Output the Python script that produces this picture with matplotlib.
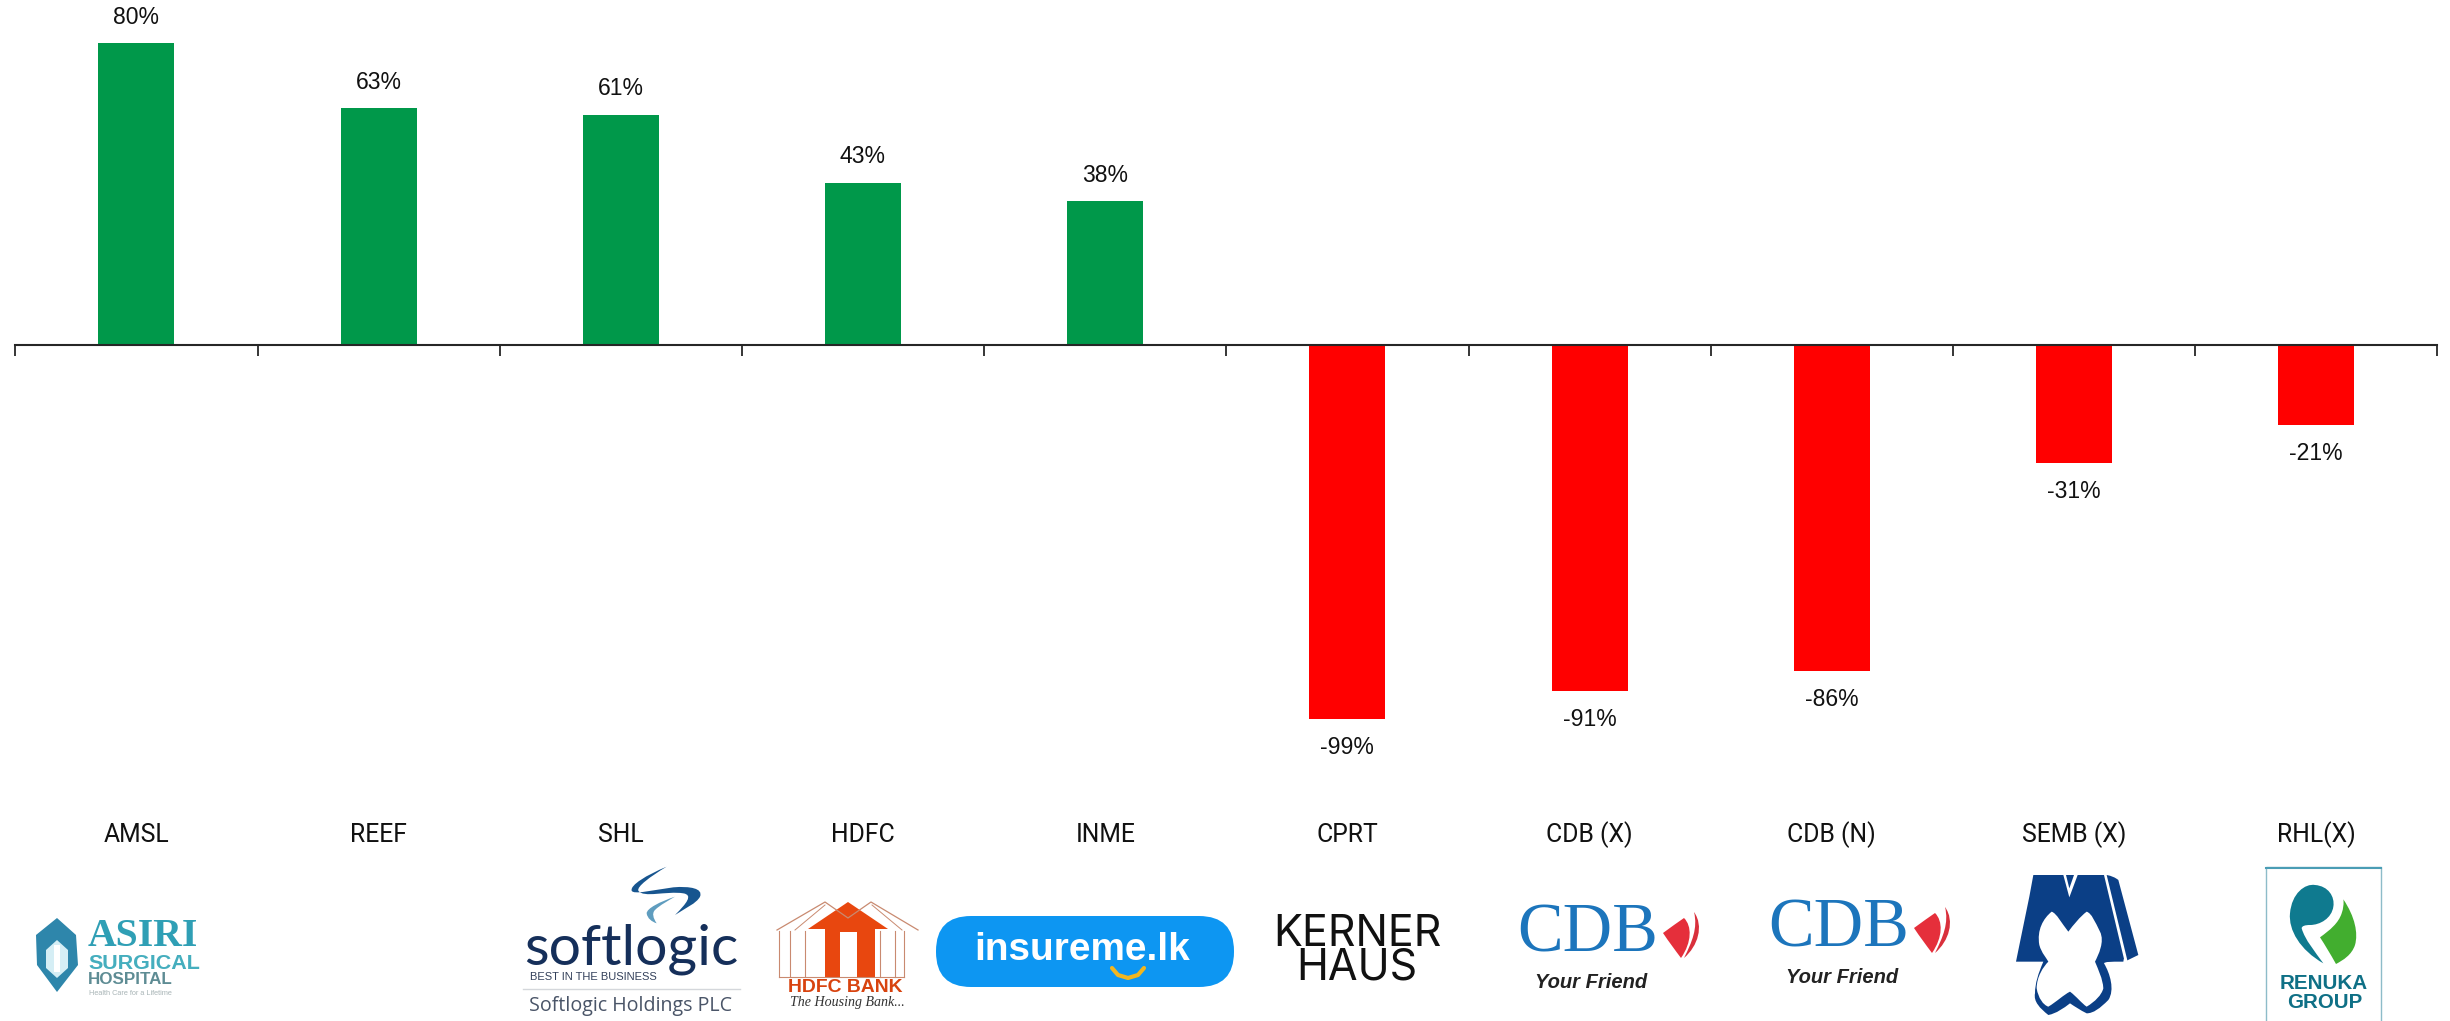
import matplotlib
matplotlib.use("Agg")
import matplotlib.pyplot as plt
from matplotlib.patches import Polygon, PathPatch, FancyBboxPatch, Rectangle
from matplotlib.path import Path

tickers = ["AMSL", "REEF", "SHL", "HDFC", "INME", "CPRT", "CDB (X)", "CDB (N)", "SEMB (X)", "RHL(X)"]
changes = [80, 62.8, 61, 43, 38.2, -98.8, -91.5, -86.2, -31, -21]
change_labels = ["80%", "63%", "61%", "43%", "38%", "-99%", "-91%", "-86%", "-31%", "-21%"]

GREEN = "#00984A"
RED = "#FF0000"
W, H = 2450, 1021

fig = plt.figure(figsize=(W / 100, H / 100), dpi=100, facecolor="white")
ax = fig.add_axes([15.3 / W, 0, 2422 / W, 1])
ax.set_xlim(-0.5, 9.5)
ax.set_ylim(-178.7, 91.4)
colors = [GREEN if v >= 0 else RED for v in changes]
ax.bar(range(len(tickers)), changes, width=76 / 242.2, color=colors, zorder=2)
for s in ["left", "right", "top"]:
    ax.spines[s].set_visible(False)
ax.spines["bottom"].set_position(("data", 0))
ax.spines["bottom"].set_linewidth(1.5)
ax.spines["bottom"].set_color("#262626")
ax.spines["bottom"].set_zorder(3)
ax.yaxis.set_visible(False)
ax.set_xticks([i - 0.5 for i in range(len(tickers) + 1)])
ax.tick_params(axis="x", direction="out", length=8, width=1.3, color="#262626", labelbottom=False)
ax.patch.set_alpha(0)

for i, (v, lab) in enumerate(zip(changes, change_labels)):
    ax.annotate(lab, (i, v), xytext=(0, 18.7 if v > 0 else -20.5), textcoords="offset points",
                ha="center", va="center", fontsize=16.6, family="Liberation Sans", color="#111111")
for i, t in enumerate(tickers):
    ax.annotate(t, (i, 0), xytext=(0, -(835 - 345.5) * 0.72), textcoords="offset points",
                ha="center", va="center", fontsize=17.8, family="Roboto", color="#111111")

# logo layer, in image pixels
lg = fig.add_axes([0, 0, 1, 1], zorder=5)
lg.set_xlim(0, W)
lg.set_ylim(H, 0)
lg.axis("off")
lg.patch.set_alpha(0)
renderer = fig.canvas.get_renderer()


def fit(s, x0, x1, yc, color, family="Liberation Sans", weight="normal", style="normal", **kw):
    t = lg.text((x0 + x1) / 2, yc, s, ha="center", va="center", color=color, family=family,
                fontweight=weight, fontstyle=style, fontsize=20, **kw)
    w = t.get_window_extent(renderer).width
    t.set_fontsize(20 * (x1 - x0) / w)
    return t


def poly(pts, color, **kw):
    lg.add_patch(Polygon(pts, closed=True, facecolor=color, edgecolor="none", **kw))


def curve(verts, color, ox=0, oy=0, k=1):
    """verts: start point followed by triples of Bezier control points."""
    pts = [(ox + x * k, oy + y * k) for x, y in verts]
    codes = [Path.MOVETO] + [Path.CURVE4] * (len(pts) - 1)
    lg.add_patch(PathPatch(Path(pts, codes), facecolor=color, edgecolor="none"))


# Asiri
poly([(57, 918), (76, 935), (78, 965), (57, 992), (37, 965), (36, 935)], "#2E86AB")
poly([(57, 940), (68, 950), (68, 968), (57, 978), (46, 968), (46, 950)], "#D5EEF5")
poly([(54, 945), (60, 945), (60, 972), (54, 972)], "white")
fit("ASIRI", 88, 198, 936, "#2F9FB5", family="Liberation Serif", weight="bold")
fit("SURGICAL", 88, 200, 963, "#45AEBE", weight="bold")
fit("HOSPITAL", 88, 173, 979, "#5E8C94", weight="bold")
fit("Health Care for a Lifetime", 88, 172, 993, "#A9B5B7")

# Softlogic: zoom coordinates /3 + offset
SX, SY, SK = 500, 860, 1 / 3
curve([(500, 20), (440, 45), (390, 75), (395, 92), (400, 105), (460, 90), (520, 82), (570, 78), (610, 85), (600, 110),
       (590, 130), (555, 145), (525, 165), (560, 130), (580, 105), (550, 100), (500, 92), (430, 115), (415, 92),
       (410, 80), (450, 50), (500, 20)], "#17558F", SX, SY, SK)
curve([(525, 110), (480, 125), (440, 145), (440, 160), (442, 175), (455, 185), (470, 190), (460, 175), (455, 160),
       (465, 150), (480, 135), (505, 122), (525, 110)], "#5F9DBF", SX, SY, SK)
fit("softlogic", 524, 738, 949, "#152F5A", family="Lato")
fit("BEST IN THE BUSINESS", 530, 657, 977, "#33405A")
lg.plot([523, 740], [989, 989], color="#D4D7DB", lw=1)
fit("Softlogic Holdings PLC", 529, 732, 1006, "#4A5568", family="Open Sans")

# HDFC
lg.plot([777, 825, 848, 871, 918], [930, 902, 918, 902, 930], color="#C98A70", lw=0.9)
lg.plot([795, 825], [930, 905], color="#C98A70", lw=0.7)
lg.plot([872, 902], [905, 930], color="#C98A70", lw=0.7)
poly([(848, 902), (888, 929), (875, 929), (875, 977), (857, 977), (857, 932), (840, 932), (840, 977),
      (825, 977), (825, 929), (808, 929)], "#E8470F")
for xv in (779, 790, 805, 880, 895, 904):
    lg.plot([xv, xv], [931, 977], color="#C98A70", lw=0.8)
lg.plot([779, 904], [977, 977], color="#C98A70", lw=0.8)
fit("HDFC BANK", 788, 903, 987, "#D8430F", weight="bold")
fit("The Housing Bank...", 790, 905, 1002, "#333333", family="Liberation Serif", style="italic")

# insureme
lg.add_patch(FancyBboxPatch((936, 916), 298, 71, boxstyle="round,pad=0,rounding_size=35", facecolor="#0D96F2",
                            edgecolor="none"))
fit("insureme.lk", 975, 1190, 950, "white", weight="bold")
lg.plot([1112, 1118, 1128, 1138, 1144], [968, 975, 978, 975, 968], color="#F2B61F", lw=3, solid_capstyle="round")

# Kerner Haus
lg.text(1357, 951, "KERNER\nHAUS", ha="center", va="center", color="#111111", family="Inter",
        fontsize=31, linespacing=0.78)


# CDB logos
def cdb(x0, y0):
    fit("CDB", x0 - 3, x0 + 138, y0 + 23, "#1C75BC", family="Liberation Serif")
    curve([(143, 21), (150, 16), (158, 10), (164, 6), (172, 14), (172, 30), (161, 46), (155, 38), (149, 30), (143, 21)],
          "#E52F3B", x0, y0)
    curve([(174, 0), (184, 14), (178, 34), (164, 46), (172, 30), (178, 16), (174, 0)], "#D9303C", x0, y0)
    fit("Your Friend", x0 + 15, x0 + 127, y0 + 70, "#222222", style="italic", weight="bold")


cdb(1520, 912)
cdb(1771, 907)

# Semb: zoom coordinates /3 + offset
MX, MY, MK = 1980, 860, 1 / 3
curve([(160, 45), (280, 45), (280, 45), (380, 45), (395, 48), (405, 52), (415, 60), (435, 135), (455, 210), (475, 285),
       (463, 291), (452, 296), (440, 302), (436, 290), (433, 285), (430, 305), (390, 305), (375, 305), (372, 310),
       (390, 340), (405, 390), (385, 420), (360, 445), (340, 460), (320, 460), (300, 450), (285, 440), (270, 430),
       (250, 445), (230, 460), (205, 465), (180, 445), (160, 425), (165, 400), (165, 370), (175, 340), (190, 305),
       (165, 305), (140, 305), (108, 305), (125, 220), (145, 130), (160, 45)], "#0B3F86", MX, MY, MK)
curve([(265, 215), (245, 190), (230, 160), (215, 155), (190, 175), (170, 210), (178, 255), (185, 280), (200, 295),
       (205, 305), (190, 320), (170, 350), (170, 385), (175, 415), (190, 435), (205, 440), (230, 425), (250, 405),
       (270, 395), (290, 410), (305, 430), (320, 440), (345, 425), (365, 405), (370, 385), (368, 355), (355, 330),
       (345, 305), (355, 285), (375, 245), (360, 215), (345, 185), (335, 160), (320, 155), (300, 170), (280, 195),
       (265, 215)], "white", MX, MY, MK)
poly([(1980 + 250 / 3, 860 + 45 / 3), (1980 + 293 / 3, 860 + 45 / 3), (1980 + 268 / 3, 860 + 112 / 3)], "white")
poly([(1980 + 258 / 3, 860 + 45 / 3), (1980 + 282 / 3, 860 + 45 / 3), (1980 + 268 / 3, 860 + 85 / 3)], "#0B3F86")
poly([(1980 + 372 / 3, 860 + 45 / 3), (1980 + 380 / 3, 860 + 45 / 3), (1980 + 443 / 3, 860 + 305 / 3),
      (1980 + 434 / 3, 860 + 305 / 3)], "white")

# Renuka: zoom coordinates /3 + offset
lg.add_patch(Rectangle((2266, 867), 115, 160, facecolor="white", edgecolor="#8DBCC9", lw=1))
lg.plot([2266, 2381], [867.5, 867.5], color="#4A9DB5", lw=1.5)
curve([(1030, 310), (960, 270), (925, 210), (930, 160), (935, 100), (975, 70), (1005, 75), (1045, 78), (1065, 110),
       (1060, 140), (1055, 175), (1020, 195), (990, 195), (975, 195), (965, 198), (965, 205), (975, 240), (1005, 275),
       (1030, 310)], "#0F7A8F", MX, MY, MK)
curve([(1090, 118), (1125, 170), (1135, 220), (1125, 255), (1115, 285), (1090, 300), (1068, 312), (1050, 280),
       (1035, 255), (1020, 232), (1050, 210), (1075, 190), (1085, 160), (1090, 145), (1092, 130), (1090, 118)],
      "#42AE2F", MX, MY, MK)
fit("RENUKA", 2280, 2368, 983, "#0F7086", weight="bold")
fit("GROUP", 2287, 2362, 1002, "#0F7086", weight="bold")

fig.savefig("out.png", dpi=100, facecolor="white")
